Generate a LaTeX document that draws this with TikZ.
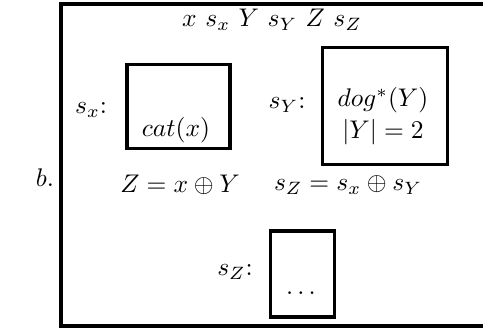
\documentclass[tikz,border=0pt]{standalone}
\usepackage{amsmath}
\usepackage{amssymb}
\usetikzlibrary{positioning}

\begin{document}
\begin{tikzpicture}[x=0.1378cm,y=-0.1378cm,
    frame/.style={draw,line width=1.2pt,inner sep=0pt},
    lbl/.style={inner sep=0pt}]

    \useasboundingbox (0,0) rectangle (48.3,32.9);

    % outer frame (open on the right)
    \draw[line width=1.2pt] (48.3,0.4) -- (6.1,0.4) -- (6.1,32.6) -- (48.3,32.6);
    \node[lbl] (tag) at (4.5,17.8) {$b.$};

    \node[lbl] (head) at (27.2,2.0) {$x\ s_x\ Y\ s_Y\ Z\ s_Z$};

    % ── s_x ──────────────────────────────
    \node[frame,minimum width=1.42cm,minimum height=1.17cm] (catbox) at (17.85,10.65) {};
    \node[lbl] (cat) at (17.6,13.0) {$cat(x)$};
    \node[lbl] (sx) at (9.1,11.0) {$s_x$:};

    % ── s_Y ──────────────────────────────
    \node[frame,minimum width=1.71cm,minimum height=1.60cm] (dogbox) at (38.5,10.6) {};
    \node[lbl] (dog) at (38.3,10.0) {$dog^*(Y)$};
    \node[lbl] (card) at (38.3,13.2) {$|Y| = 2$};
    \node[lbl] (sy) at (28.7,10.5) {$s_Y$:};

    % ── equations ────────────────────────
    \node[lbl] (zeq) at (18.0,18.5) {$Z = x \oplus Y$};
    \node[lbl] (szeq) at (34.8,18.5) {$s_Z = s_x \oplus s_Y$};

    % ── s_Z ──────────────────────────────
    \node[frame,minimum width=0.87cm,minimum height=1.185cm] (dotbox) at (30.25,27.4) {};
    \node[lbl] (dots) at (30.1,29.3) {$\ldots$};
    \node[lbl] (sz) at (23.5,27.2) {$s_Z$:};

\end{tikzpicture}
\end{document}
